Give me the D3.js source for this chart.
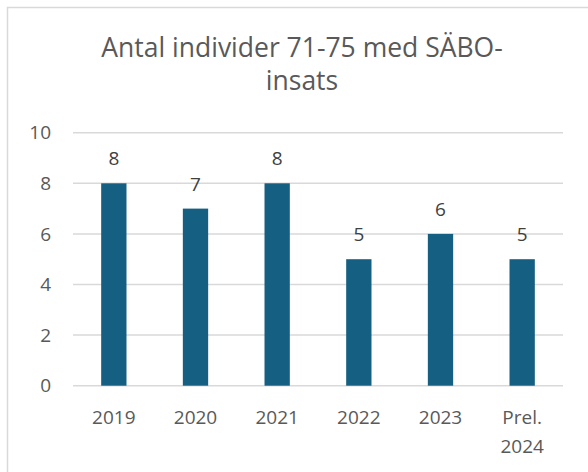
<!DOCTYPE html>
<html><head><meta charset="utf-8">
<script src="https://cdn.jsdelivr.net/npm/d3@7"></script>
<style>html,body{margin:0;padding:0;background:#fff;}svg{display:block;}</style>
</head><body>
<script>
const categories = [["2019"],["2020"],["2021"],["2022"],["2023"],["Prel.","2024"]];
const values = [8,7,8,5,6,5];
const yTicks = [0,2,4,6,8,10];
const titleLines = ["Antal individer 71-75 med SÄBO-","insats"];

const W = 588, H = 472;
const font = "'Open Sans', sans-serif";
const svg = d3.select("body").append("svg").attr("width", W).attr("height", H);
svg.append("rect").attr("x",0).attr("y",0).attr("width",W).attr("height",H).attr("fill","#fff");
// chart border
svg.append("rect").attr("x",7.5).attr("y",7.5).attr("width",W+20).attr("height",H+20)
  .attr("fill","none").attr("stroke","#d9d9d9").attr("stroke-width",1.5);

// title
svg.append("g").selectAll("text").data(titleLines).join("text")
  .attr("x",302).attr("y",(d,i)=>57+i*33)
  .attr("text-anchor","middle").attr("font-family",font).attr("font-size",26.5)
  .attr("fill","#595959").text(d=>d);

const x = d3.scaleBand().domain(d3.range(values.length)).range([73,563]).padding(0);
const y = d3.scaleLinear().domain([0,10]).range([385.7,132.7]);

// gridlines
svg.append("g").selectAll("line").data(yTicks).join("line")
  .attr("x1",73).attr("x2",563).attr("y1",d=>y(d)).attr("y2",d=>y(d))
  .attr("stroke","#d9d9d9").attr("stroke-width",1.5);

// y tick labels
svg.append("g").selectAll("text").data(yTicks).join("text")
  .attr("x",51).attr("y",d=>y(d)).attr("dy","0.35em")
  .attr("text-anchor","end").attr("font-family",font).attr("font-size",19)
  .attr("fill","#595959").text(d=>d);

const bw = x.bandwidth()*0.31;
svg.append("g").selectAll("rect").data(values).join("rect")
  .attr("x",(d,i)=>x(i)+x.bandwidth()/2-bw/2).attr("width",bw)
  .attr("y",d=>y(d)).attr("height",d=>y(0)-y(d)).attr("fill","#156082");

// data labels
svg.append("g").selectAll("text").data(values).join("text")
  .attr("x",(d,i)=>x(i)+x.bandwidth()/2).attr("y",d=>y(d)-18)
  .attr("text-anchor","middle").attr("font-family",font).attr("font-size",19)
  .attr("fill","#404040").text(d=>d);

// x labels
const xl = svg.append("g").selectAll("text").data(categories).join("text")
  .attr("text-anchor","middle").attr("font-family",font).attr("font-size",19)
  .attr("fill","#595959");
xl.each(function(d,i){
  d3.select(this).selectAll("tspan").data(d).join("tspan")
    .attr("x",x(i)+x.bandwidth()/2).attr("y",(t,j)=>424+j*29).text(t=>t);
});
</script>
</body></html>
